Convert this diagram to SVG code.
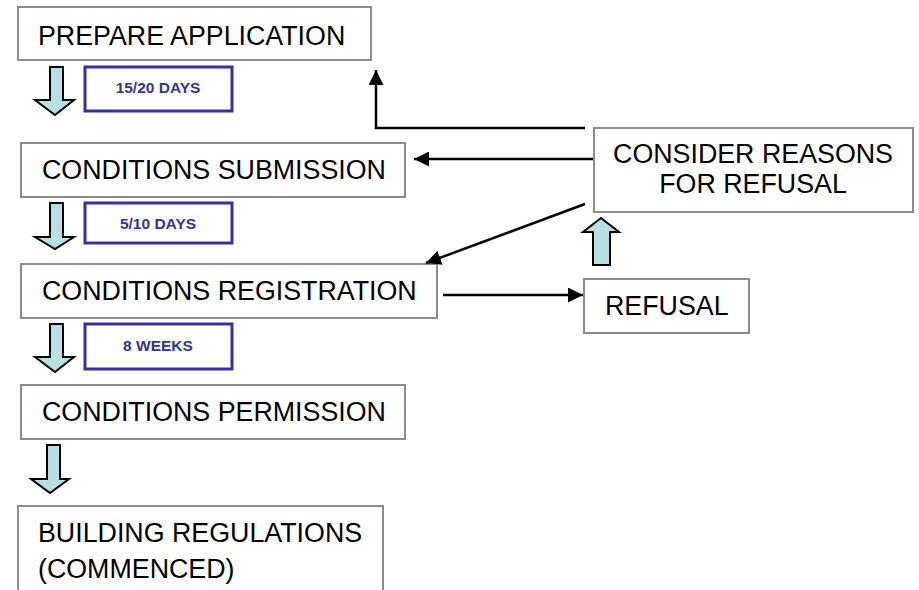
<svg xmlns="http://www.w3.org/2000/svg" width="919" height="590" viewBox="0 0 919 590">
<defs>
<style>
.box{fill:#fff;stroke:#8c8c8c;stroke-width:2}
.lbl{fill:#fff;stroke:#333399;stroke-width:3}
.t{font-family:"Liberation Sans",Arial,sans-serif;font-size:26.8px;fill:#000}
.lt{font-family:"Liberation Sans",Arial,sans-serif;font-size:15.5px;font-weight:bold;fill:#333399;text-anchor:middle}
.blk{fill:#b8e0e2;stroke:#000;stroke-width:2;stroke-linejoin:miter}
.c{fill:none;stroke:#000;stroke-width:2.5}
</style>
<marker id="ah" viewBox="0 0 10 10" refX="10" refY="5" markerWidth="6" markerHeight="6" markerUnits="strokeWidth" orient="auto">
<path d="M0,0 L10,5 L0,10 Z" fill="#000"/>
</marker>
</defs>
<rect width="919" height="590" fill="#fff"/>

<g id="prepare">
<rect class="box" x="18" y="7" width="353" height="53"/>
<text class="t" x="38" y="45">PREPARE APPLICATION</text>
</g>
<g id="lbl1">
<rect class="lbl" x="85" y="67" width="147" height="44"/>
<text class="lt" x="158" y="93">15/20 DAYS</text>
</g>
<g id="submission">
<rect class="box" x="21" y="143" width="384" height="54"/>
<text class="t" x="42" y="179">CONDITIONS SUBMISSION</text>
</g>
<g id="lbl2">
<rect class="lbl" x="85" y="203" width="147" height="40"/>
<text class="lt" x="158" y="229">5/10 DAYS</text>
</g>
<g id="registration">
<rect class="box" x="21" y="264" width="416" height="54"/>
<text class="t" x="42" y="300">CONDITIONS REGISTRATION</text>
</g>
<g id="lbl3">
<rect class="lbl" x="85" y="324" width="147" height="45"/>
<text class="lt" x="158" y="351">8 WEEKS</text>
</g>
<g id="permission">
<rect class="box" x="21" y="385" width="384" height="54"/>
<text class="t" x="42" y="421">CONDITIONS PERMISSION</text>
</g>
<g id="building">
<rect class="box" x="18" y="506" width="365" height="100"/>
<text class="t" x="38" y="542">BUILDING REGULATIONS</text>
<text class="t" x="38" y="578">(COMMENCED)</text>
</g>
<g id="consider">
<rect class="box" x="594" y="128" width="319" height="84"/>
<text class="t" x="753" y="163" text-anchor="middle">CONSIDER REASONS</text>
<text class="t" x="753" y="193" text-anchor="middle">FOR REFUSAL</text>
</g>
<g id="refusal">
<rect class="box" x="584" y="279" width="165" height="54"/>
<text class="t" x="605" y="315">REFUSAL</text>
</g>

<g id="connectors">
<path class="blk" d="M50,67 H63 V100 H74 L55,115 L35,100 H50 Z"/>
<path class="blk" d="M50,203 H63 V237 H74 L55,249 L35,237 H50 Z"/>
<path class="blk" d="M50,324 H63 V357 H74 L55,372 L35,357 H50 Z"/>
<path class="blk" d="M47,445 H60 V479 H69 L50,493 L31,479 H47 Z"/>
<path class="blk" d="M593,265 V232 H583 L601,218 L619,232 H610 V265 Z"/>
<path class="c" d="M585,128 H376 V70" marker-end="url(#ah)"/>
<path class="c" d="M593,159 H414" marker-end="url(#ah)"/>
<path class="c" d="M585,204 L426,263" marker-end="url(#ah)"/>
<path class="c" d="M443,295 H583" marker-end="url(#ah)"/>
</g>
</svg>
